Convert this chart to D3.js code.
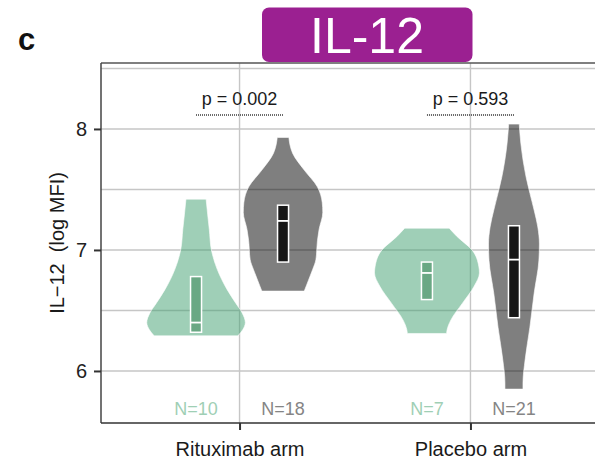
<!DOCTYPE html>
<html><head><meta charset="utf-8">
<script src="https://cdn.jsdelivr.net/npm/d3@7"></script>
<style>
html,body{margin:0;padding:0;background:#fff;}
svg{display:block;font-family:"Liberation Sans",Arial,Helvetica,sans-serif;}
</style></head>
<body>
<svg id="chart" width="595" height="459"></svg>
<script>
// ---- data ----
const categories = ["Rituximab arm", "Placebo arm"];
const groups = ["Pre", "Post"];
const groupColors = ["#40a070", "#000000"];
const boxColors = ["#6aa884", "#171717"];
const nColors = ["#9fcfb5", "#858585"];
const yTicks = [6, 7, 8];
const gridValues = [6, 6.5, 7, 7.5, 8, 8.5];
const pValues = ["p = 0.002", "p = 0.593"];
const nCounts = [[10, 18], [7, 21]];

// violin profiles: [log MFI, relative density]
const ritux_pre = [[7.42,0.19],[7.29,0.22],[7.17,0.25],[7.00,0.29],[6.84,0.40],[6.67,0.59],[6.56,0.75],[6.48,0.87],[6.40,0.93],[6.34,0.88],[6.29,0.79]];
const ritux_post = [[7.93,0.11],[7.87,0.13],[7.80,0.18],[7.66,0.40],[7.52,0.65],[7.39,0.74],[7.31,0.75],[7.17,0.68],[7.08,0.65],[6.92,0.62],[6.84,0.56],[6.75,0.48],[6.66,0.40]];
const placebo_pre = [[7.18,0.42],[7.11,0.57],[7.00,0.85],[6.86,0.98],[6.81,0.99],[6.70,0.89],[6.56,0.67],[6.42,0.45],[6.34,0.38],[6.31,0.37]];
const placebo_post = [[8.04,0.10],[7.88,0.13],[7.60,0.23],[7.33,0.38],[7.19,0.45],[7.05,0.48],[6.91,0.47],[6.64,0.38],[6.36,0.30],[6.09,0.21],[5.90,0.17],[5.85,0.17]];
const violins = [[ritux_pre, ritux_post], [placebo_pre, placebo_post]];

// boxes: [q1, median, q3]
const ritux_box = [[6.32, 6.40, 6.78], [6.90, 7.24, 7.37]];
const placebo_box = [[6.59, 6.81, 6.90], [6.44, 6.92, 7.20]];
const boxes = [ritux_box, placebo_box];

// ---- layout ----
const svg = d3.select("#chart");
const L = 101, R = 609, T = 63, B = 423;

const y = d3.scaleLinear().domain([5.57, 8.545]).range([B, T]);
const x = d3.scalePoint().domain(categories).range([L, R]).padding(0.6);
const dodge = d3.scalePoint().domain(groups).range([-43.5, 43.5]);
const w = d3.scaleLinear().domain([0, 1]).range([0, 53]);

// panel label
svg.append("text").attr("x", 18).attr("y", 50).attr("font-size", 31).attr("font-weight", "bold")
  .attr("fill", "#111").text("c");

// gridlines
const grid = svg.append("g");
grid.selectAll("line.h").data(gridValues).join("line")
  .attr("x1", L).attr("x2", 595).attr("y1", d => y(d)).attr("y2", d => y(d))
  .attr("stroke", "#c6c6c6").attr("stroke-width", 1.4);
grid.selectAll("line.v").data(categories).join("line")
  .attr("x1", d => x(d)).attr("x2", d => x(d)).attr("y1", T).attr("y2", B)
  .attr("stroke", "#c6c6c6").attr("stroke-width", 1.4);

// violins
categories.forEach((cat, ci) => {
  groups.forEach((g, gi) => {
    const cx = x(cat) + dodge(g);
    const area = d3.area()
      .y(d => y(d[0]))
      .x0(d => cx - w(d[1]))
      .x1(d => cx + w(d[1]))
      .curve(d3.curveMonotoneY);
    svg.append("path").datum(violins[ci][gi].slice().reverse()).attr("d", area)
      .attr("fill", groupColors[gi]).attr("fill-opacity", 0.5)
      .attr("stroke", "#ffffff").attr("stroke-opacity", 0.6).attr("stroke-width", 1);
    const b = boxes[ci][gi];
    const bw = 11;
    svg.append("rect").attr("x", cx - bw / 2).attr("width", bw)
      .attr("y", y(b[2])).attr("height", y(b[0]) - y(b[2]))
      .attr("fill", boxColors[gi]).attr("stroke", "#ffffff").attr("stroke-width", 1.5);
    svg.append("line").attr("x1", cx - bw / 2).attr("x2", cx + bw / 2)
      .attr("y1", y(b[1])).attr("y2", y(b[1]))
      .attr("stroke", "#ffffff").attr("stroke-width", 1.8);
    svg.append("text").attr("x", cx).attr("y", 415).attr("text-anchor", "middle")
      .attr("font-size", 18).attr("fill", nColors[gi]).text("N=" + nCounts[ci][gi]);
  });
  // p-value
  const x0 = x(cat) + dodge(groups[0]), x1 = x(cat) + dodge(groups[1]);
  svg.append("line").attr("x1", x0).attr("x2", x1).attr("y1", 115).attr("y2", 115)
    .attr("stroke", "#333").attr("stroke-width", 1.3).attr("stroke-dasharray", "1,1");
  svg.append("text").attr("x", x(cat)).attr("y", 105).attr("text-anchor", "middle")
    .attr("font-size", 18).attr("fill", "#1a1a1a").text(pValues[ci]);
});

// frame lines
svg.append("line").attr("x1", L).attr("x2", 595).attr("y1", T).attr("y2", T)
  .attr("stroke", "#555").attr("stroke-width", 1.5);

// axes
const yAxis = svg.append("g").attr("transform", `translate(${L},0)`)
  .call(d3.axisLeft(y).tickValues(yTicks).tickSize(7).tickPadding(7).tickFormat(d3.format("d")));
yAxis.select(".domain").attr("d", `M0,${T}V${B}`).attr("stroke", "#444").attr("stroke-width", 1.5);
yAxis.selectAll(".tick line").attr("stroke", "#333").attr("stroke-width", 2);
yAxis.selectAll(".tick text").attr("font-size", 20).attr("fill", "#222")
  .attr("font-family", "Liberation Sans, Arial, sans-serif");

const xAxis = svg.append("g").attr("transform", `translate(0,${B})`)
  .call(d3.axisBottom(x).tickSize(7).tickPadding(12));
xAxis.select(".domain").attr("d", `M${L},0H595`).attr("stroke", "#333").attr("stroke-width", 1.5);
xAxis.selectAll(".tick line").attr("stroke", "#333").attr("stroke-width", 2);
xAxis.selectAll(".tick text").attr("font-size", 20).attr("fill", "#1a1a1a")
  .attr("font-family", "Liberation Sans, Arial, sans-serif");

// y title
svg.append("text").attr("transform", "translate(64,243) rotate(-90)")
  .attr("text-anchor", "middle").attr("font-size", 20).attr("fill", "#1a1a1a")
  .style("white-space", "pre").text("IL\u221212  (log MFI)");

// title box
svg.append("rect").attr("x", 262).attr("y", 7.5).attr("width", 210.5).attr("height", 54.5)
  .attr("rx", 7).attr("fill", "#9b2091");
svg.append("text").attr("x", 367).attr("y", 53).attr("text-anchor", "middle")
  .attr("font-size", 50).attr("fill", "#ffffff").text("IL-12");
</script>
</body></html>
